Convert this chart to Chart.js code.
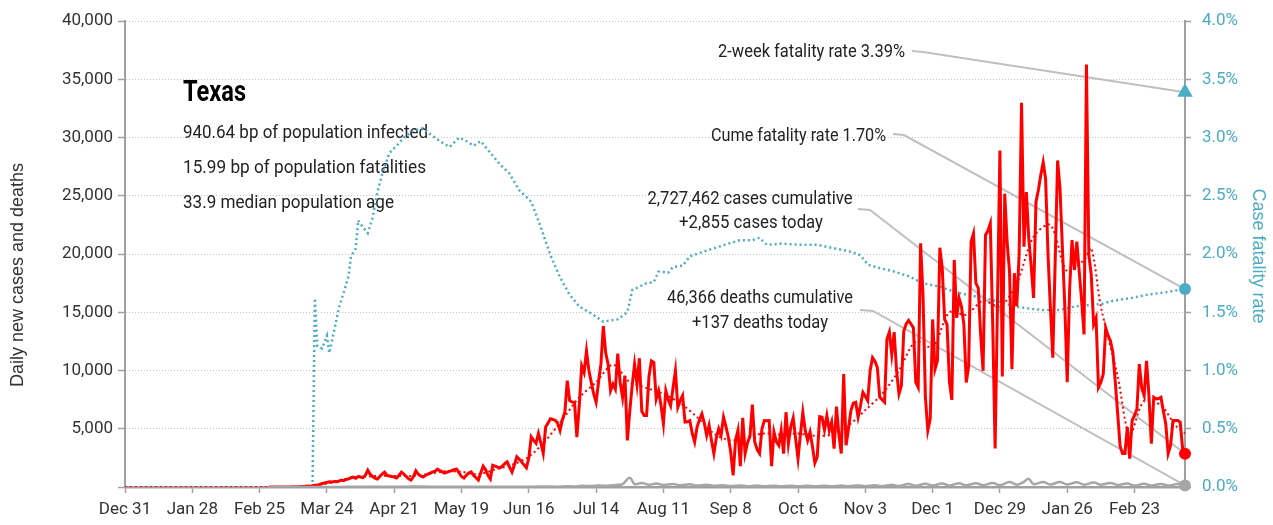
<!DOCTYPE html>
<html>
<head>
<meta charset="utf-8">
<title>Texas</title>
<script src="https://cdn.jsdelivr.net/npm/chart.js@4.4.1/dist/chart.umd.min.js"></script>
<style>
  html, body { margin: 0; padding: 0; background: #fff; }
  #chart { display: block; }
</style>
</head>
<body>
<canvas id="chart" width="1273" height="525"></canvas>
<script>
// x axis = days since Dec 31, 2019
const tickDays = [0, 28, 56, 84, 112, 140, 168, 196, 224, 252, 280, 308, 336, 364, 392, 420];
const tickLabels = ['Dec 31', 'Jan 28', 'Feb 25', 'Mar 24', 'Apr 21', 'May 19', 'Jun 16', 'Jul 14',
    'Aug 11', 'Sep 8', 'Oct 6', 'Nov 3', 'Dec 1', 'Dec 29', 'Jan 26', 'Feb 23'];
const lastDay = 441;

// daily new cases, one per day from firstCaseDay
const firstCaseDay = 60;
const dailyCases = [
    0, 0, 0, 0, 1, 0, 2, 3, 5, 8,
    12, 10, 20, 30, 45, 60, 80, 70, 110, 140,
    150, 220, 300, 350, 400, 450, 420, 480, 450, 500,
    600, 550, 650, 700, 800, 850, 750, 900, 860, 800,
    1000, 1450, 1100, 900, 750, 680, 900, 1100, 1280, 1000,
    950, 900, 850, 770, 1000, 1280, 1100, 900, 700, 600,
    900, 1390, 1100, 950, 860, 1000, 1100, 1200, 1300, 1350,
    1540, 1400, 1300, 1200, 1280, 1350, 1400, 1500, 1540, 1200,
    900, 770, 1000, 1200, 1300, 1000, 800, 600, 1200, 1790,
    1500, 1000, 680, 1870, 1800, 1700, 1650, 1800, 2000, 2160,
    1700, 1280, 1900, 2590, 2400, 2160, 1900, 1650, 2500, 4300,
    4000, 3750, 4600, 3800, 2900, 5150, 5500, 5860, 5800, 5720,
    5500, 4860, 5800, 6420, 9130, 7420, 7300, 7280, 4290, 7000,
    10400, 9830, 11680, 10000, 8980, 8000, 7280, 9000, 10550, 13820,
    11500, 10550, 8270, 8840, 8400, 11450, 9000, 7700, 9550, 4000,
    6500, 8700, 10550, 8840, 11060, 6500, 6140, 6140, 9500, 10830,
    10700, 7560, 8270, 7000, 5430, 8270, 7500, 6990, 8500, 9980,
    6850, 7420, 7850, 5570, 5600, 5700, 4600, 3860, 5150, 5800,
    6280, 5500, 4430, 5290, 4000, 2870, 4200, 5000, 4430, 6000,
    5200, 4290, 3000, 1000, 4000, 4860, 1790, 5940, 2870, 3800,
    4350, 7080, 3860, 3200, 2870, 5000, 5710, 5700, 5710, 1790,
    4720, 3900, 3580, 4860, 2870, 6420, 3730, 5200, 5940, 4150,
    2440, 4500, 6420, 4860, 4000, 4720, 3500, 2070, 2590, 6050,
    6000, 4920, 6140, 4860, 5570, 3300, 6900, 4500, 2870, 9700,
    3580, 5000, 6570, 7200, 7280, 6000, 7000, 8130, 7800, 7420,
    9980, 11110, 10800, 10260, 7700, 7500, 7280, 12680, 13300, 11400,
    13300, 10000, 7990, 8700, 13390, 14000, 14300, 14000, 13670, 8980,
    8550, 20920, 16520, 7700, 4860, 5860, 14390, 10120, 10830, 20550,
    18790, 14390, 13960, 9000, 7480, 19500, 14520, 16230, 15500, 13960,
    8980, 10400, 21070, 21770, 17510, 17080, 13000, 9980, 21640, 22000,
    22630, 14000, 3300, 16000, 28890, 9500, 25190, 21000, 18500, 10120,
    18360, 15500, 20000, 33000, 20640, 25330, 21350, 19000, 16230, 24480,
    25500, 26800, 27890, 26470, 20000, 15400, 11110, 19500, 28040, 25620,
    20500, 15500, 9000, 17000, 21210, 18650, 21070, 18500, 16000, 13100,
    36270, 19900, 18200, 13960, 14520, 8550, 9000, 9700, 13670, 13000,
    12540, 11540, 9000, 6280, 3500, 2870, 2870, 5150, 2440, 5710,
    6140, 6700, 10550, 8500, 7850, 10830, 7850, 3730, 7700, 7560,
    7600, 7700, 6500, 5430, 2870, 3580, 5710, 5710, 5710, 5570,
    3300, 2855
];

// 7-day average of new cases
const avgDays = [0, 63, 70, 77, 84, 91, 98, 105, 112, 119, 126, 133, 140, 147, 154, 161, 168, 175, 182, 189,
    196, 203, 210, 217, 224, 231, 238, 245, 252, 259, 266, 273, 280, 287, 294, 301, 308, 315, 322, 329,
    336, 343, 350, 357, 364, 371, 378, 385, 392, 399, 402, 406, 413, 418, 424, 431, 437, 441];
const avgCases = [0, 0, 15, 60, 300, 650, 850, 950, 950, 950, 1100, 1350, 1300, 1100, 1500, 1900, 2600, 4000, 5800, 7700,
    9000, 10500, 9000, 8500, 8000, 7200, 6000, 4600, 4000, 4300, 4600, 4500, 4600, 4400, 4500, 5300, 6600, 8000, 10000, 12500,
    12000, 15000, 14800, 16000, 15500, 17500, 21500, 22500, 18500, 19500, 20500, 15500, 9500, 4500, 7400, 7000, 5300, 4600];

// case fatality rate (%)
const cfrDays = [78, 79, 80, 82, 84, 85, 87, 89, 91, 93, 94, 96, 97, 99, 101, 103, 105, 107, 110, 113,
    116, 120, 124, 127, 131, 135, 139, 143, 145, 148, 152, 156, 160, 164, 169, 173, 177, 181, 185, 189,
    194, 199, 205, 209, 211, 214, 217, 220, 222, 226, 228, 232, 235, 239, 245, 251, 256, 261, 264, 267,
    273, 281, 288, 295, 302, 306, 309, 314, 320, 326, 332, 339, 346, 353, 360, 364, 370, 377, 382, 389,
    395, 400, 406, 411, 418, 425, 432, 438, 441];
const cfrValues = [0, 1.62, 1.21, 1.19, 1.30, 1.15, 1.34, 1.54, 1.67, 1.81, 1.98, 2.05, 2.29, 2.23, 2.18, 2.31, 2.53, 2.69, 2.87, 2.93,
    3.00, 3.06, 3.08, 3.03, 2.97, 2.92, 3.00, 2.96, 2.93, 2.97, 2.87, 2.77, 2.69, 2.55, 2.45, 2.23, 1.99, 1.80, 1.65, 1.55,
    1.49, 1.42, 1.44, 1.50, 1.69, 1.72, 1.75, 1.76, 1.85, 1.84, 1.89, 1.90, 1.98, 2.01, 2.05, 2.09, 2.12, 2.12, 2.14, 2.08,
    2.09, 2.08, 2.08, 2.05, 2.02, 1.99, 1.91, 1.88, 1.85, 1.81, 1.75, 1.72, 1.67, 1.64, 1.61, 1.59, 1.55, 1.53, 1.52, 1.52,
    1.55, 1.56, 1.57, 1.60, 1.62, 1.65, 1.67, 1.69, 1.70];

// daily deaths
const deathDays = [60, 78, 85, 92, 99, 106, 113, 120, 127, 134, 141, 148, 155, 162, 169, 176, 180, 183, 187, 190,
    194, 197, 201, 204, 207, 210, 212, 215, 218, 221, 224, 228, 231, 235, 238, 242, 245, 249, 252, 256,
    259, 263, 266, 270, 273, 277, 280, 284, 287, 291, 294, 298, 301, 305, 308, 312, 315, 319, 322, 326,
    329, 333, 336, 340, 343, 347, 350, 354, 357, 361, 364, 368, 371, 374, 376, 378, 382, 385, 389, 392,
    396, 399, 403, 406, 410, 413, 417, 420, 424, 427, 431, 434, 438, 441];
const dailyDeaths = [0, 0, 5, 15, 25, 30, 25, 35, 30, 25, 30, 20, 25, 20, 30, 40, 30, 60, 50, 100,
    80, 130, 100, 180, 250, 800, 250, 350, 200, 300, 180, 260, 150, 230, 120, 200, 100, 160, 80, 130,
    70, 120, 60, 110, 60, 100, 60, 110, 60, 110, 60, 120, 70, 130, 70, 150, 80, 200, 90, 250,
    100, 280, 120, 300, 130, 320, 140, 330, 150, 350, 160, 420, 200, 450, 700, 250, 430, 220, 420, 220,
    400, 200, 380, 200, 350, 180, 300, 120, 280, 120, 260, 120, 250, 137];

// latest values
const twoWeekRate = 3.39;
const cumeRate = 1.70;
const casesToday = 2855;
const deathsToday = 137;

const RED = '#ff0000';
const BLUE = '#4bacc6';
const GRAY = '#a6a6a6';
const AXIS = '#a0a0a0';
const NARROW = "Roboto, 'Liberation Sans', sans-serif";
const REGULAR = "'Liberation Sans', Arial, sans-serif";

const casePoints = dailyCases.map((v, i) => ({ x: firstCaseDay + i, y: v }));
const avgPoints = avgDays.map((d, i) => ({ x: d, y: avgCases[i] }));
const cfrPoints = cfrDays.map((d, i) => ({ x: d, y: cfrValues[i] }));
const deathPoints = deathDays.map((d, i) => ({ x: d, y: dailyDeaths[i] }));

// texts, axis titles and leader lines
const notesPlugin = {
    id: 'notes',
    beforeDatasetsDraw(chart) {
        const { ctx, scales } = chart;
        const xEnd = scales.x.getPixelForValue(lastDay);
        ctx.save();
        ctx.textBaseline = 'middle';

        // narrow look: squeeze the text to the width it has in the original
        const put = (str, x, y, w) => ctx.fillText(str, x, y, w);

        ctx.fillStyle = '#000';
        ctx.textAlign = 'left';
        ctx.font = 'bold 30px ' + NARROW;
        put('Texas', 183, 93, 63);
        ctx.fillStyle = '#222';
        ctx.font = '19px ' + NARROW;
        put('940.64 bp of population infected', 183, 133, 245);
        put('15.99 bp of population fatalities', 183, 168, 243);
        put('33.9 median population age', 183, 203, 211);

        ctx.textAlign = 'right';
        put('2-week fatality rate 3.39%', 905, 52, 187);
        put('Cume fatality rate 1.70%', 886, 136, 175);
        ctx.textAlign = 'center';
        put('2,727,462 cases cumulative', 750, 199, 205);
        put('+2,855 cases today', 751, 223, 144);
        put('46,366 deaths cumulative', 760, 298, 186);
        put('+137 deaths today', 760, 323, 136);

        // axis titles
        ctx.font = '18px ' + REGULAR;
        ctx.save();
        ctx.translate(18, 275);
        ctx.rotate(-Math.PI / 2);
        ctx.fillStyle = '#333';
        ctx.fillText('Daily new cases and deaths', 0, 0);
        ctx.restore();
        ctx.save();
        ctx.translate(1258, 256);
        ctx.rotate(Math.PI / 2);
        ctx.fillStyle = BLUE;
        ctx.fillText('Case fatality rate', 0, 0);
        ctx.restore();

        const links = [
            [[912, 51], [923, 52], [xEnd, scales.y1.getPixelForValue(twoWeekRate)]],
            [[893, 134], [904, 135], [xEnd, scales.y1.getPixelForValue(cumeRate)]],
            [[858, 209], [870, 210], [xEnd, scales.y.getPixelForValue(casesToday)]],
            [[860, 310], [873, 311], [xEnd, scales.y.getPixelForValue(deathsToday)]]
        ];
        ctx.strokeStyle = '#bfbfbf';
        ctx.lineWidth = 2;
        links.forEach(pts => {
            ctx.beginPath();
            ctx.moveTo(pts[0][0], pts[0][1]);
            ctx.lineTo(pts[1][0], pts[1][1]);
            ctx.lineTo(pts[2][0], pts[2][1]);
            ctx.stroke();
        });
        ctx.restore();
    }
};

const marker = (x, y, axis, color, style, r) => ({
    data: [{ x: x, y: y }],
    yAxisID: axis,
    showLine: false,
    pointStyle: style,
    pointRadius: r,
    pointBackgroundColor: color,
    pointBorderColor: color,
    pointBorderWidth: 0,
    clip: false,
    order: 0
});

const ctx = document.getElementById('chart').getContext('2d');
const chart = new Chart(ctx, {
    type: 'line',
    data: {
        datasets: [
            marker(lastDay, casesToday, 'y', RED, 'circle', 6),
            marker(lastDay, deathsToday, 'y', GRAY, 'circle', 6),
            marker(lastDay, cumeRate, 'y1', BLUE, 'circle', 6),
            marker(lastDay, twoWeekRate, 'y1', BLUE, 'triangle', 9),
            {
                data: deathPoints,
                yAxisID: 'y',
                borderColor: GRAY,
                borderWidth: 2.5,
                pointRadius: 0,
                tension: 0.4,
                order: 1
            },
            {
                data: casePoints,
                yAxisID: 'y',
                borderColor: RED,
                borderWidth: 3,
                pointRadius: 0,
                order: 2
            },
            {
                data: avgPoints,
                yAxisID: 'y',
                borderColor: RED,
                borderWidth: 2,
                borderDash: [2, 3],
                pointRadius: 0,
                tension: 0.3,
                order: 3
            },
            {
                data: cfrPoints,
                yAxisID: 'y1',
                borderColor: BLUE,
                borderWidth: 2.5,
                borderDash: [2, 3],
                pointRadius: 0,
                order: 4
            }
        ]
    },
    options: {
        responsive: false,
        animation: false,
        devicePixelRatio: 1,
        layout: { padding: { top: 18, left: 0, right: 0, bottom: 0 } },
        plugins: { legend: { display: false }, tooltip: { enabled: false } },
        scales: {
            x: {
                type: 'linear',
                min: 0,
                max: lastDay,
                afterFit: s => { s.height = 38; },
                afterBuildTicks: s => { s.ticks = tickDays.map(v => ({ value: v })); },
                grid: { display: true, drawOnChartArea: false, drawTicks: true, tickLength: 6, tickColor: AXIS, tickWidth: 1.5 },
                border: { display: true, color: AXIS, width: 2.5 },
                ticks: {
                    autoSkip: false,
                    maxRotation: 0,
                    padding: 7,
                    color: '#333',
                    font: { family: NARROW, size: 17 },
                    callback: (v, i) => tickLabels[i]
                }
            },
            y: {
                position: 'left',
                min: 0,
                max: 40000,
                afterFit: s => { s.width = 125; },
                grid: { color: '#c4c4c4', lineWidth: 1, tickLength: 7, tickColor: AXIS, tickWidth: 1.5, tickBorderDash: [] },
                border: { display: true, color: AXIS, width: 2, dash: [1, 2] },
                ticks: {
                    stepSize: 5000,
                    padding: 5,
                    color: '#333',
                    font: { family: NARROW, size: 17 },
                    callback: v => v === 0 ? '' : v.toLocaleString('en-US')
                }
            },
            y1: {
                position: 'right',
                min: 0,
                max: 4,
                afterFit: s => { s.width = 88; },
                grid: { drawOnChartArea: false, tickLength: 6, tickColor: AXIS, tickWidth: 1.5 },
                border: { display: true, color: AXIS, width: 2 },
                ticks: {
                    stepSize: 0.5,
                    padding: 11,
                    color: BLUE,
                    font: { family: NARROW, size: 17 },
                    callback: v => v.toFixed(1) + '%'
                }
            }
        }
    },
    plugins: [notesPlugin]
});
</script>
</body>
</html>
